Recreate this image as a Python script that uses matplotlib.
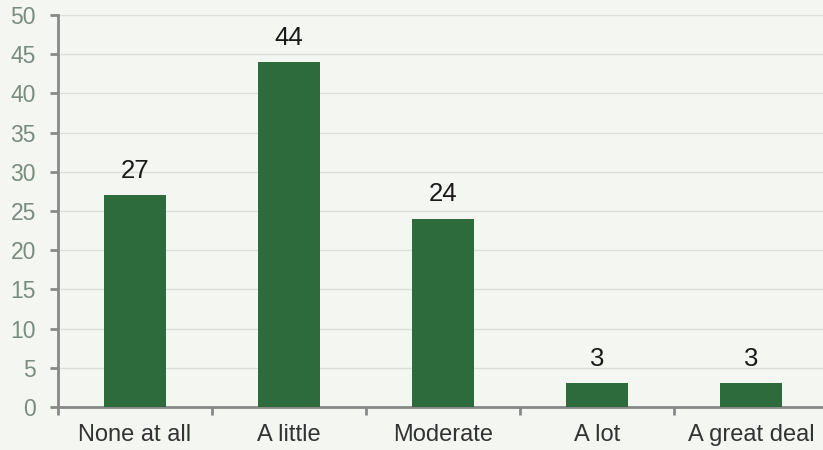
import matplotlib
matplotlib.use("Agg")
import matplotlib.pyplot as plt

categories = ["None at all", "A little", "Moderate", "A lot", "A great deal"]
values = [27, 44, 24, 3, 3]
yticks = [0, 5, 10, 15, 20, 25, 30, 35, 40, 45, 50]

bg = "#f4f6f1"
bar_color = "#2e6b3c"

plt.rcParams['font.family'] = ['Liberation Sans', 'DejaVu Sans']

fig = plt.figure(figsize=(8.23, 4.5), dpi=100, facecolor=bg)
ax = fig.add_axes([58/823, 43/450, 770/823, 392/450], facecolor=bg)

x = list(range(len(categories)))
ax.bar(x, values, width=0.4, color=bar_color, zorder=3)
for xi, v in zip(x, values):
    ax.annotate(str(v), (xi, v), xytext=(0, 12.5), textcoords="offset points",
                ha="center", va="baseline", fontsize=18.5, color="#1a1a1a")

ax.set_xlim(-0.5, len(categories) - 0.5)
ax.set_ylim(0, 50)
ax.set_yticks(yticks)
ax.set_yticklabels([str(t) for t in yticks])
ax.yaxis.grid(True, color="#dcdfd9", linewidth=1, zorder=0)

ax.set_xticks(x)
ax.set_xticklabels(categories)
ax.set_xticks([i - 0.5 for i in range(len(categories) + 1)], minor=True)
ax.tick_params(axis="x", which="major", length=0, labelsize=17, labelcolor="#333333", pad=12)
ax.tick_params(axis="x", which="minor", length=6, width=2, color="#888888")
ax.tick_params(axis="y", length=6, width=2, color="#888888", labelsize=16.5, labelcolor="#7a8c7e", pad=10)

for s in ["top", "right"]:
    ax.spines[s].set_visible(False)
for s in ["left", "bottom"]:
    ax.spines[s].set_color("#888888")
    ax.spines[s].set_linewidth(2)

fig.savefig("out.png", dpi=100, facecolor=bg)
